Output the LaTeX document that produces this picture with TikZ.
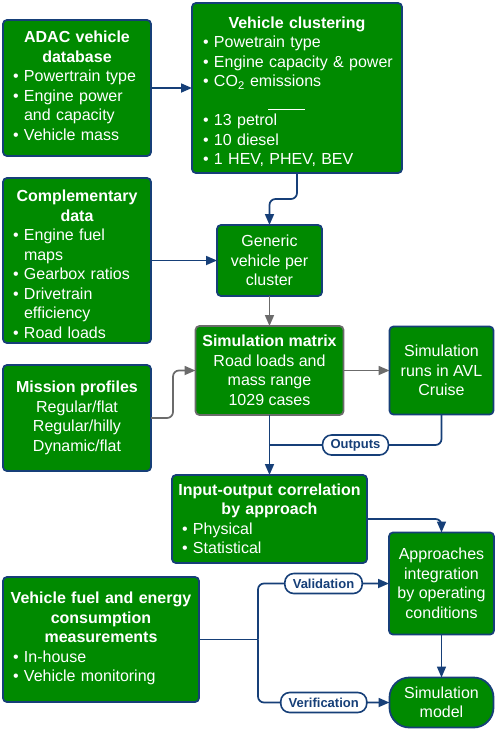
\documentclass[tikz,border=0pt]{standalone}
\usepackage{fontspec}
\setmainfont{Liberation Sans}
\usetikzlibrary{positioning,arrows.meta}
\definecolor{boxgreen}{HTML}{008A00}
\definecolor{navy}{HTML}{163F78}
\definecolor{midgray}{HTML}{6B6B6B}
\newcommand{\boxhead}[1]{\par\noindent\makebox[\hsize]{\bfseries #1}\par}
\newcommand{\bitem}[1]{\par\noindent\makebox[11pt][l]{\textbullet}#1\par}
\newcommand{\bcont}[1]{\par\noindent\hspace*{11pt}#1\par}
\tikzset{
  box/.style={rectangle, rounded corners=4pt, draw=navy, fill=boxgreen, line width=1.8pt, outer sep=0pt,
              text=white, inner sep=0pt, align=center, font=\fontsize{16}{19.5}\selectfont},
  listbox/.style={box, align=left},
  tagoval/.style={rectangle, rounded corners=9pt, draw=navy, fill=white, text=navy, line width=1.6pt,
                  inner xsep=8pt, inner ysep=3pt, minimum height=20pt,
                  font=\bfseries\fontsize{13}{15}\selectfont},
  link/.style={line width=1.7pt, draw=navy, rounded corners=6pt},
  fwd/.style={link, -{Triangle[length=11pt,width=9pt]}},
  grayfwd/.style={fwd, draw=midgray},
}
\begin{document}
\begin{tikzpicture}[x=1pt, y=1pt]
  \useasboundingbox (0,0) rectangle (498,-732);

  % sources on the left
  \node[listbox, anchor=north west, minimum width=148pt, minimum height=136pt, text width=128pt] (adac) at (3,-20)
    {\boxhead{ADAC vehicle}\boxhead{database}\bitem{Powertrain type}\bitem{Engine power}\bcont{and capacity}\bitem{Vehicle mass}\vspace{12pt}};
  \node[listbox, minimum width=148pt, minimum height=165pt, text width=128pt] (comp) [below=22pt of adac]
    {\boxhead{Complementary}\boxhead{data}\bitem{Engine fuel}\bcont{maps}\bitem{Gearbox ratios}\bitem{Drivetrain}\bcont{efficiency}\bitem{Road loads}};
  \node[box, minimum width=148pt, minimum height=106pt] (mission) [below=22pt of comp]
    {\textbf{Mission profiles}\\Regular/flat\\Regular/hilly\\Dynamic/flat};
  \node[listbox, minimum width=196pt, minimum height=125pt, text width=176pt] (meas) [below=106pt of mission.south west, anchor=north west]
    {\boxhead{Vehicle fuel and energy}\boxhead{consumption}\boxhead{measurements}\bitem{In-house}\bitem{Vehicle monitoring}\vspace{10pt}};

  % processing chain
  \node[listbox, minimum width=210pt, minimum height=170pt, text width=188pt] (clust) [right=41pt of adac]
    {\boxhead{Vehicle clustering}\bitem{Powetrain type}\bitem{\mbox{Engine capacity \& power}}\bitem{CO\textsubscript{2} emissions}%
     \bcont{\hspace*{54pt}\rule[-3.5pt]{37pt}{0.8pt}}\bitem{13 petrol}\bitem{10 diesel}\bitem{1 HEV, PHEV, BEV}};
  \node[box, minimum width=105pt, minimum height=71pt] (gen) [right=66pt of comp] {Generic\\vehicle per\\cluster};
  \node[box, draw=midgray, minimum width=148pt, minimum height=89pt] (matrix) [below=30pt of gen]
    {\textbf{Simulation matrix}\\Road loads and\\mass range\\1029 cases};
  \node[box, minimum width=104pt, minimum height=88pt] (runs) [right=46pt of matrix] {Simulation\\runs in AVL\\Cruise};
  \node[listbox, minimum width=195pt, minimum height=88pt, text width=175pt] (io) [below=60pt of matrix]
    {\boxhead{Input-output correlation}\boxhead{by approach}\bitem{Physical}\bitem{Statistical}\vspace{8pt}};
  \node[box, minimum width=105pt, minimum height=102pt] (appr) [below=118pt of runs]
    {Approaches\\integration\\by operating\\conditions};
  \node[box, rounded corners=20pt, minimum width=104pt, minimum height=50pt] (simmod) [below=43pt of appr]
    {Simulation\\model};

  % connectors
  \draw[fwd] (adac) -- (clust);
  \draw[fwd] (clust.south) -- ++(0,-26) -| (gen.north);
  \draw[fwd] (comp) -- (gen);
  \draw[grayfwd] (gen) -- (matrix);
  \draw[grayfwd] (matrix) -- (runs);
  \draw[grayfwd] (mission.east) -- ++(22,0) |- (matrix.west);
  \draw[fwd] (matrix.south) -- (io.north);
  \path (matrix.south) ++(0,-30) coordinate (outjoin);
  \draw[link] (runs.south) |- node[tagoval, pos=0.75] {Outputs} (outjoin);
  \draw[fwd] (io.east) -| (appr.north);
  \draw[fwd] (appr) -- (simmod);
  \draw[link] (meas.east) -- ++(59,0) coordinate (split);
  \draw[fwd] (split) |- node[tagoval, pos=0.75] {Validation} (appr.west);
  \draw[fwd] (split) |- node[tagoval, pos=0.75] {Verification} (simmod.west);
\end{tikzpicture}
\end{document}
